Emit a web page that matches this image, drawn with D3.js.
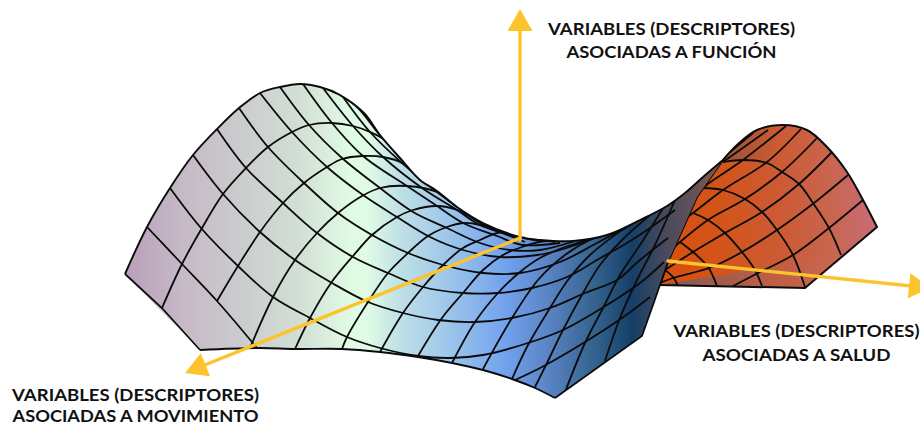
<!DOCTYPE html>
<html>
<head>
<meta charset="utf-8">
<script src="https://cdn.jsdelivr.net/npm/d3@7"></script>
<style>
html,body{margin:0;padding:0;background:#fff;overflow:hidden;}
</style>
</head>
<body>
<script>
/* saddle surface, values in picture units */
var ridge = [[125,274],[147,227],[170,188],[193,155],[217,129],[239,108],[260,93],[280,87],[300,84],[320,87],[340,95],[364,113],[380,135],[400,158],[420,180],[437,191],[457,207],[483,223],[520,237],[540,240],[573,241],[607,235],[640,220],[667,206],[685,193],[703,177],[723,160]];
var foldEdge = [[723,160],[697,197],[668,262],[653,305],[642,336]];
var frontEdge = [[200,350],[260,348],[295,349],[342,349],[380,352],[418,357],[452,363],[483,370],[512,379],[535,388],[555,398]];

var ribs = [
 [[147,227],[182,264],[217,301],[257,348]],
 [[170,188],[201,228],[238,266],[273,297],[310,318],[347,337],[380,348],[418,356],[450,358],[483,355],[528,343],[563,330],[602,308],[640,283],[664,262]],
 [[193,155],[223,194],[260,232],[295,260],[332,283],[368,302],[403,313],[438,320],[475,322],[512,318],[550,308],[585,293],[617,280],[640,260],[668,238]],
 [[217,129],[246,168],[283,203],[317,233],[353,257],[388,273],[423,287],[463,293],[498,293],[532,288],[567,277],[597,260],[627,243],[650,228],[675,210]],
 [[239,108],[268,147],[304,183],[338,213],[372,235],[408,253],[443,265],[483,273],[520,273],[560,262],[597,243],[630,225],[655,212],[680,195]],
 [[260,93],[292,132],[327,167],[363,195],[397,217],[430,237],[463,250],[500,257],[537,255],[560,250],[600,236]],
 [[280,87],[309,125],[342,158],[380,188],[413,212],[447,228],[480,243],[510,250],[540,250],[575,241]],
 [[303,84],[332,123],[363,156],[407,186],[437,206],[463,223],[497,236],[523,245],[560,243]],
 [[323,88],[353,126],[383,157],[422,188],[457,210],[480,225],[510,235],[540,241]],
 [[343,97],[370,132],[402,163],[437,192],[480,222],[520,238]],
 [[340,95],[358,108],[378,133],[400,158]],
 [[515,380],[542,367],[585,342],[622,318],[650,297]]
];
var arcs = [
 [[162,308],[182,264],[202,228],[223,194],[246,168],[268,147],[292,132],[309,125],[332,123],[353,126],[370,132],[388,142],[400,157]],
 [[217,301],[238,266],[260,232],[283,203],[304,183],[327,167],[342,159],[363,156],[383,157],[402,163],[422,180]],
 [[250,348],[273,297],[295,260],[317,233],[338,213],[362,196],[380,188],[407,186],[437,192],[462,208]],
 [[295,349],[310,318],[331,283],[353,256],[372,235],[397,217],[413,210],[437,206],[457,210],[482,224],[495,230]],
 [[342,349],[347,337],[368,302],[388,273],[408,253],[428,236],[447,227],[463,223],[480,225],[507,235],[525,242]],
 [[380,352],[403,313],[423,287],[443,265],[463,248],[480,240],[497,233],[513,232],[535,238],[555,242]],
 [[418,356],[442,318],[463,293],[483,270],[503,255],[522,247],[545,241],[575,241]],
 [[452,363],[475,322],[498,293],[520,272],[540,258],[565,247],[595,238]],
 [[483,369],[512,318],[538,280],[565,255],[590,240],[612,233]],
 [[512,379],[528,345],[550,308],[568,280],[590,255],[615,235],[630,225]],
 [[535,387],[547,363],[563,330],[583,293],[600,265],[622,240],[650,215]],
 [[565,392],[585,343],[603,308],[620,275],[640,245],[665,205]],
 [[605,361],[620,318],[637,280],[655,245],[675,200]]
];

/* the far hump */
var backRidge = [[723,160],[737,145],[757,130],[783,125],[807,130],[827,147],[847,172],[863,200],[877,227]];
var backBase = [[877,227],[805,288],[660,285],[668,262],[697,197],[723,160]];
var backRibs = [
 [[863,200],[829,228],[793,255],[760,272],[733,286]],
 [[848,175],[814,203],[777,230],[742,252],[712,267],[673,278],[660,283]],
 [[832,152],[799,184],[762,212],[725,233],[693,252],[665,270]],
 [[817,138],[782,172],[745,199],[708,220],[680,242],[668,253]],
 [[801,129],[767,162],[723,190],[693,213],[675,226]],
 [[786,126],[743,160],[703,188],[697,197]],
 [[768,130],[723,162]],
 [[753,133],[730,152]]
];
var backArcs = [
 [[723,162],[743,160],[767,163],[782,172],[799,184],[813,203],[829,228],[841,255]],
 [[703,188],[723,190],[745,199],[762,212],[777,230],[793,255],[805,287]],
 [[693,213],[708,220],[725,233],[742,252],[755,270],[762,286]],
 [[680,242],[693,252],[708,267],[717,286]],
 [[665,270],[673,277],[678,286]]
];
var backCap = [[723,160],[737,145],[757,130],[775,126],[783,172],[767,163],[743,160]];
var backWedge = [[660,285],[690,280],[723,275],[775,265],[833,258],[805,288]];

/* colours run left to right over the sheet */
var frontStops = [[125,"#b99fba"],[180,"#c5b8c6"],[250,"#cccfce"],[300,"#d2dfd5"],[350,"#e0fbe4"],[368,"#e0fbe4"],[400,"#bfe0e6"],[440,"#a3cbea"],[505,"#72a2ee"],[545,"#5c86c8"],[590,"#386693"],[632,"#153f68"],[665,"#484a5c"],[700,"#6a5356"],[723,"#8e5845"]];
var backStops = [[660,"#d9500c"],[720,"#d2541a"],[780,"#cc5a34"],[830,"#c9654e"],[877,"#c76c78"]];

var axisLines = [
 {from:[520,240],tip:[520,9]},
 {from:[520,238],tip:[185,373]},
 {from:[668,261],tip:[931,288]}
];
var labels = [
 {lines:["VARIABLES (DESCRIPTORES)","ASOCIADAS A FUNCIÓN"],cx:671.5,base:[35,58],widths:[247,210]},
 {lines:["VARIABLES (DESCRIPTORES)","ASOCIADAS A SALUD"],cx:796.5,base:[337,361],widths:[246,188]},
 {lines:["VARIABLES (DESCRIPTORES)","ASOCIADAS A MOVIMIENTO"],cx:135.5,base:[401,421.5],widths:[247,246]}
];

var width = 920, height = 425;
var x = d3.scaleLinear().domain([0,920]).range([0,width]);
var y = d3.scaleLinear().domain([0,425]).range([0,height]);

var svg = d3.select("body").append("svg").attr("width",width).attr("height",height).style("display","block");
var defs = svg.append("defs");

var curved = d3.line().x(function(d){return x(d[0]);}).y(function(d){return y(d[1]);}).curve(d3.curveCatmullRom.alpha(0.5));
var straight = d3.line().x(function(d){return x(d[0]);}).y(function(d){return y(d[1]);});

function gradient(id,stops,x1,x2){
	var g = defs.append("linearGradient").attr("id",id).attr("gradientUnits","userSpaceOnUse")
		.attr("x1",x(x1)).attr("x2",x(x2)).attr("y1",0).attr("y2",0);
	g.selectAll("stop").data(stops).enter().append("stop")
		.attr("offset",function(d){return (d[0]-x1)/(x2-x1);})
		.attr("stop-color",function(d){return d[1];});
}
gradient("frontFill",frontStops,125,723);
gradient("backFill",backStops,660,877);

var capGrad = defs.append("linearGradient").attr("id","capFill").attr("gradientUnits","userSpaceOnUse").attr("x1",x(715)).attr("x2",x(778)).attr("y1",0).attr("y2",0);
capGrad.append("stop").attr("offset",0).attr("stop-color","#8e5845");
capGrad.append("stop").attr("offset",1).attr("stop-color","#8e5845").attr("stop-opacity",0);
var wedgeGrad = defs.append("linearGradient").attr("id","wedgeFill").attr("gradientUnits","userSpaceOnUse").attr("x1",x(665)).attr("x2",x(835)).attr("y1",0).attr("y2",0);
wedgeGrad.append("stop").attr("offset",0).attr("stop-color","#6a5a66").attr("stop-opacity",0.9);
wedgeGrad.append("stop").attr("offset",1).attr("stop-color","#c76c60").attr("stop-opacity",0.15);

/* outlines join a curved and a straight run so the corners stay sharp */
var frontPath = curved(ridge)+straight(foldEdge).replace(/^M/,"L")+straight([[642,336],[555,398]]).replace(/^M/,"L")+curved(frontEdge.slice().reverse()).replace(/^M/,"L")+"Z";
var backPath = curved(backRidge)+straight(backBase).replace(/^M/,"L")+"Z";

defs.append("clipPath").attr("id","frontClip").append("path").attr("d",frontPath);
defs.append("clipPath").attr("id","backClip").append("path").attr("d",backPath);

// far hump first, the front sheet covers it
var back = svg.append("g");
back.append("path").attr("d",backPath).attr("fill","url(#backFill)");
var backInner = back.append("g").attr("clip-path","url(#backClip)");
backInner.append("path").attr("d",straight(backCap)+"Z").attr("fill","url(#capFill)");
backInner.append("path").attr("d",straight(backWedge)+"Z").attr("fill","url(#wedgeFill)");
backInner.selectAll(".back-grid").data(backRibs.concat(backArcs)).enter().append("path").attr("class","back-grid")
	.attr("d",curved).attr("fill","none").attr("stroke","#0b0b0b").attr("stroke-width",1.8);
back.append("path").attr("d",backPath).attr("fill","none").attr("stroke","#0b0b0b").attr("stroke-width",2);

var front = svg.append("g");
front.append("path").attr("d",frontPath).attr("fill","url(#frontFill)");
front.append("g").attr("clip-path","url(#frontClip)").selectAll(".grid").data(ribs.concat(arcs)).enter().append("path").attr("class","grid")
	.attr("d",curved).attr("fill","none").attr("stroke","#0b0b0b").attr("stroke-width",1.8);
front.append("path").attr("d",curved(ridge)).attr("fill","none").attr("stroke","#0b0b0b").attr("stroke-width",1.9);
front.append("path").attr("d",curved(frontEdge)).attr("fill","none").attr("stroke","#0b0b0b").attr("stroke-width",1.9);
front.append("path").attr("d",straight([[125,274],[162,308],[200,350]])).attr("fill","none").attr("stroke","#0b0b0b").attr("stroke-width",1.7);
front.append("path").attr("d",straight([[555,398],[642,336],[653,305],[668,262]])).attr("fill","none").attr("stroke","#0b0b0b").attr("stroke-width",1.7);

// axes
var axisColor = "#fcc32d";
var axes = svg.append("g");
axisLines.forEach(function(a){
	var dx = x(a.tip[0])-x(a.from[0]), dy = y(a.tip[1])-y(a.from[1]);
	var len = Math.sqrt(dx*dx+dy*dy), ux = dx/len, uy = dy/len;
	var bx = x(a.tip[0])-ux*22, by = y(a.tip[1])-uy*22;
	axes.append("line").attr("x1",x(a.from[0])).attr("y1",y(a.from[1])).attr("x2",bx).attr("y2",by)
		.attr("stroke",axisColor).attr("stroke-width",3.4).attr("stroke-linecap","round");
	axes.append("polygon").attr("fill",axisColor)
		.attr("points",[[x(a.tip[0]),y(a.tip[1])],[bx-uy*12.5,by+ux*12.5],[bx+uy*12.5,by-ux*12.5]].join(" "));
});

// labels
labels.forEach(function(l){
	l.lines.forEach(function(t,i){
		svg.append("text").attr("x",x(l.cx)).attr("y",y(l.base[i]))
			.attr("text-anchor","middle").attr("font-family","Lato").attr("font-weight",700).attr("font-size",16.8)
			.attr("fill","#111").attr("textLength",l.widths[i]).attr("lengthAdjust","spacingAndGlyphs").text(t);
	});
});
</script>
</body>
</html>
